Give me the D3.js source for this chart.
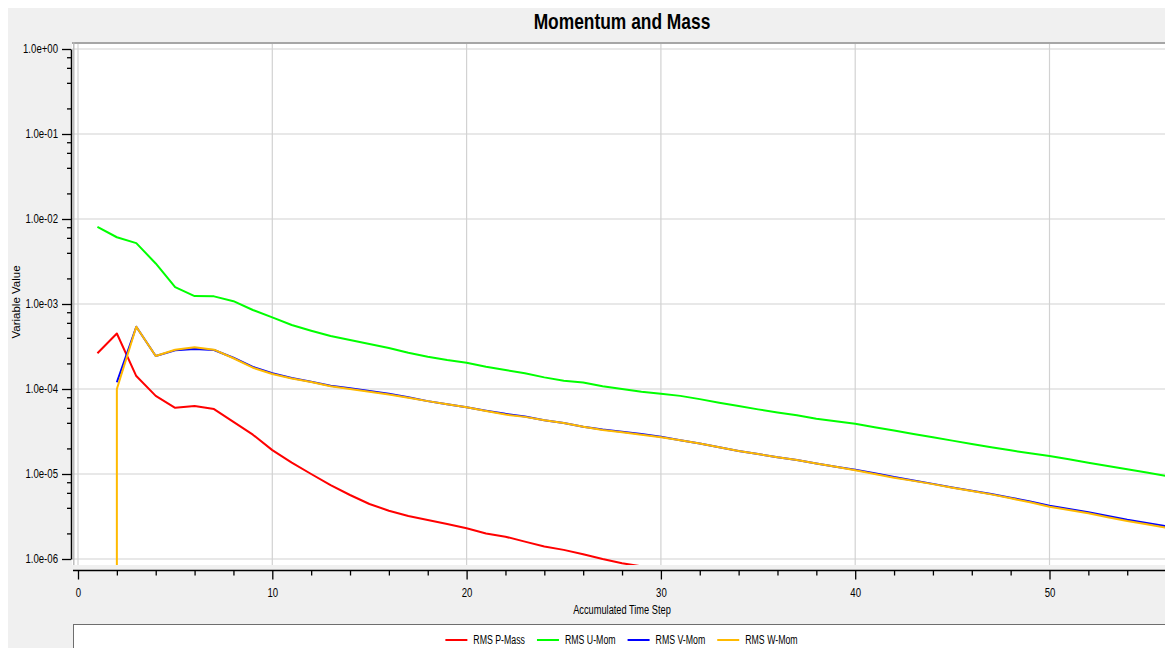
<!DOCTYPE html>
<html lang="en">
<head>
  <meta charset="UTF-8">
  <title>Momentum and Mass</title>
  <script src="https://cdn.jsdelivr.net/npm/d3@7"></script>
  <style>
    body { margin: 0; background: #fff; }
    text { font-family: "Liberation Sans", Arial, sans-serif; fill: #000; }
    .grid line { stroke: #d2d2d2; stroke-width: 1.2px; }
    .series { fill: none; stroke-width: 2px; stroke-linejoin: round; }
  </style>
</head>
<body>
<svg id="chart" width="1165" height="648"></svg>
<script>

// ---- data ----
var pMassSteps = [1, 2, 3, 4, 5, 6, 7, 8, 9, 10, 11, 12, 13, 14, 15, 16, 17, 18, 19, 20,
                  21, 22, 23, 24, 25, 26, 27, 28, 29];
var pMassValues = [2.63e-4, 4.5e-4, 1.42e-4, 8.3e-5, 6.0e-5, 6.3e-5, 5.8e-5, 4.1e-5, 2.9e-5, 1.91e-5,
                   1.36e-5, 1.0e-5, 7.4e-6, 5.66e-6, 4.44e-6, 3.7e-6, 3.2e-6, 2.88e-6, 2.58e-6, 2.3e-6,
                   2.0e-6, 1.83e-6, 1.6e-6, 1.4e-6, 1.28e-6, 1.14e-6, 1.0e-6, 8.9e-7, 8.2e-7];

var uMomSteps = [1, 2, 3, 4, 5, 6, 7, 8, 9, 10, 11, 12, 13, 14, 15, 16, 17, 18, 19, 20,
                 21, 22, 23, 24, 25, 26, 27, 28, 29, 30, 31, 32, 33, 34, 35, 36, 37, 38, 39, 40,
                 41, 42, 43, 44, 45, 46, 47, 48, 49, 50, 51, 52, 53, 54, 55, 56, 57];
var uMomValues = [8.1e-3, 6.1e-3, 5.2e-3, 3.0e-3, 1.58e-3, 1.24e-3, 1.23e-3, 1.08e-3, 8.5e-4, 6.97e-4,
                  5.66e-4, 4.85e-4, 4.2e-4, 3.77e-4, 3.39e-4, 3.04e-4, 2.67e-4, 2.4e-4, 2.19e-4, 2.04e-4,
                  1.83e-4, 1.67e-4, 1.53e-4, 1.37e-4, 1.25e-4, 1.19e-4, 1.08e-4, 1.0e-4, 9.3e-5, 8.8e-5,
                  8.3e-5, 7.6e-5, 6.9e-5, 6.3e-5, 5.76e-5, 5.3e-5, 4.9e-5, 4.47e-5, 4.17e-5, 3.89e-5,
                  3.55e-5, 3.24e-5, 2.95e-5, 2.7e-5, 2.47e-5, 2.25e-5, 2.06e-5, 1.9e-5, 1.75e-5, 1.63e-5,
                  1.49e-5, 1.36e-5, 1.24e-5, 1.14e-5, 1.04e-5, 9.5e-6, 8.7e-6];

var vMomSteps = [2, 3, 4, 5, 6, 7, 8, 9, 10, 11, 12, 13, 14, 15, 16, 17, 18, 19, 20,
                 21, 22, 23, 24, 25, 26, 27, 28, 29, 30, 31, 32, 33, 34, 35, 36, 37, 38, 39, 40,
                 41, 42, 43, 44, 45, 46, 47, 48, 49, 50, 51, 52, 53, 54, 55, 56, 57];
var vMomValues = [1.2e-4, 5.4e-4, 2.44e-4, 2.85e-4, 2.95e-4, 2.88e-4, 2.33e-4, 1.82e-4, 1.53e-4,
                  1.35e-4, 1.22e-4, 1.09e-4, 1.02e-4, 9.5e-5, 8.8e-5, 8.0e-5, 7.2e-5, 6.6e-5, 6.1e-5,
                  5.55e-5, 5.1e-5, 4.75e-5, 4.3e-5, 3.97e-5, 3.6e-5, 3.33e-5, 3.15e-5, 2.95e-5, 2.74e-5,
                  2.5e-5, 2.29e-5, 2.06e-5, 1.86e-5, 1.72e-5, 1.57e-5, 1.46e-5, 1.33e-5, 1.22e-5, 1.12e-5,
                  1.02e-5, 9.2e-6, 8.4e-6, 7.65e-6, 6.95e-6, 6.35e-6, 5.82e-6, 5.27e-6, 4.74e-6, 4.22e-6,
                  3.87e-6, 3.55e-6, 3.2e-6, 2.9e-6, 2.66e-6, 2.44e-6, 2.26e-6];

// W-Mom starts with a near-zero value at step 2 (drawn off the bottom of the axis)
var wMomSteps = [2, 2, 3, 4, 5, 6, 7, 8, 9, 10, 11, 12, 13, 14, 15, 16, 17, 18, 19, 20,
                 21, 22, 23, 24, 25, 26, 27, 28, 29, 30, 31, 32, 33, 34, 35, 36, 37, 38, 39, 40,
                 41, 42, 43, 44, 45, 46, 47, 48, 49, 50, 51, 52, 53, 54, 55, 56, 57];
var wMomValues = [1e-9, 1.0e-4, 5.4e-4, 2.44e-4, 2.9e-4, 3.1e-4, 2.9e-4, 2.3e-4, 1.78e-4, 1.5e-4,
                  1.33e-4, 1.21e-4, 1.08e-4, 1.0e-4, 9.3e-5, 8.6e-5, 7.9e-5, 7.2e-5, 6.6e-5, 6.1e-5,
                  5.5e-5, 5.0e-5, 4.7e-5, 4.3e-5, 3.97e-5, 3.6e-5, 3.3e-5, 3.1e-5, 2.9e-5, 2.7e-5,
                  2.5e-5, 2.29e-5, 2.06e-5, 1.86e-5, 1.72e-5, 1.57e-5, 1.46e-5, 1.33e-5, 1.22e-5, 1.11e-5,
                  1.0e-5, 9.05e-6, 8.3e-6, 7.6e-6, 6.9e-6, 6.3e-6, 5.76e-6, 5.17e-6, 4.64e-6, 4.12e-6,
                  3.77e-6, 3.45e-6, 3.1e-6, 2.8e-6, 2.57e-6, 2.34e-6, 2.15e-6];

var seriesNames = ["RMS P-Mass", "RMS U-Mom", "RMS V-Mom", "RMS W-Mom"];
var seriesColors = ["#ff0000", "#00ff00", "#0000ff", "#ffba00"];

var xTickValues = [0, 10, 20, 30, 40, 50];
var xTickLabels = ["0", "10", "20", "30", "40", "50"];
var yTickValues = [1, 1e-1, 1e-2, 1e-3, 1e-4, 1e-5, 1e-6];
var yTickLabels = ["1.0e+00", "1.0e-01", "1.0e-02", "1.0e-03", "1.0e-04", "1.0e-05", "1.0e-06"];
var yMinorFactors = [0.2, 0.4, 0.6, 0.8];

// ---- layout ----
var svg = d3.select("#chart");
var W = 1165, H = 648;
var plot = { left: 72, top: 42, right: 1260, bottom: 565 };

var x = d3.scaleLinear().domain([0, 50]).range([78, 1049.5]);
var y = d3.scaleLog().domain([1e-6, 1]).range([559, 49]);

// squeeze text horizontally (the source font is a narrow one)
function squeeze(sel, k) {
  sel.each(function() {
    var w = this.getComputedTextLength();
    d3.select(this).attr("textLength", w * k).attr("lengthAdjust", "spacingAndGlyphs");
  });
}

svg.append("rect").attr("width", W).attr("height", H).attr("fill", "#fff");
svg.append("rect").attr("x", 8).attr("y", 8).attr("width", W - 8).attr("height", H - 8).attr("fill", "#f0f0f0");

// title
svg.append("text")
    .attr("x", 622).attr("y", 28.5)
    .attr("text-anchor", "middle")
    .style("font-size", "22px").style("font-weight", "bold")
    .text("Momentum and Mass")
    .call(squeeze, 0.79);

// plot background
svg.append("rect")
    .attr("x", plot.left).attr("y", plot.top)
    .attr("width", plot.right - plot.left).attr("height", plot.bottom - plot.top)
    .attr("fill", "#fff");

// grid
var grid = svg.append("g").attr("class", "grid");
grid.selectAll(".gx").data(xTickValues).enter().append("line")
    .attr("x1", function(d) { return x(d); }).attr("x2", function(d) { return x(d); })
    .attr("y1", plot.top).attr("y2", plot.bottom);
grid.selectAll(".gy").data(yTickValues).enter().append("line")
    .attr("x1", plot.left).attr("x2", plot.right)
    .attr("y1", function(d) { return y(d); }).attr("y2", function(d) { return y(d); });

// frame
svg.append("line").attr("x1", plot.left).attr("x2", plot.right)
    .attr("y1", plot.top + 1).attr("y2", plot.top + 1)
    .attr("stroke", "#a6a6a6").attr("stroke-width", 2);
svg.append("line").attr("x1", 73.8).attr("x2", 73.8)
    .attr("y1", plot.top).attr("y2", plot.bottom)
    .attr("stroke", "#b4b4b4").attr("stroke-width", 1.3);

// series
svg.append("clipPath").attr("id", "clip")
  .append("rect")
    .attr("x", plot.left).attr("y", plot.top)
    .attr("width", plot.right - plot.left).attr("height", plot.bottom - plot.top);

var line = d3.line()
    .x(function(d) { return x(d[0]); })
    .y(function(d) { return y(d[1]); });

var series = [
  d3.zip(pMassSteps, pMassValues),
  d3.zip(uMomSteps, uMomValues),
  d3.zip(vMomSteps, vMomValues),
  d3.zip(wMomSteps, wMomValues)
];

svg.append("g").attr("clip-path", "url(#clip)")
  .selectAll("path")
  .data(series)
  .enter().append("path")
    .attr("class", "series")
    .attr("stroke", function(d, i) { return seriesColors[i]; })
    .attr("d", line);

// y axis
var yMinor = [];
yTickValues.slice(0, -1).forEach(function(t) {
  yMinorFactors.forEach(function(f) { yMinor.push(t * f); });
});

var yAxisG = svg.append("g")
    .attr("transform", "translate(71,0)")
    .call(d3.axisLeft(y)
        .tickValues(yTickValues)
        .tickFormat(function(d, i) { return yTickLabels[i]; })
        .tickSize(9).tickSizeOuter(0).tickPadding(4));
yAxisG.select(".domain").attr("stroke", "#000").attr("stroke-width", 1.5);
yAxisG.selectAll(".tick line").attr("stroke", "#000").attr("stroke-width", 1.3);
yAxisG.selectAll("text").style("font-size", "12px").attr("fill", "#000").call(squeeze, 0.8);

var yMinorG = svg.append("g")
    .attr("transform", "translate(71,0)")
    .call(d3.axisLeft(y).tickValues(yMinor).tickFormat("").tickSize(4).tickSizeOuter(0));
yMinorG.select(".domain").remove();
yMinorG.selectAll(".tick line").attr("stroke", "#000").attr("stroke-width", 1.3);

// x axis
var xMinor = [];
d3.range(0, 62, 2).forEach(function(v) { if (v % 10 !== 0) xMinor.push(v); });

svg.append("line")
    .attr("x1", 73).attr("x2", W)
    .attr("y1", 570.5).attr("y2", 570.5)
    .attr("stroke", "#000").attr("stroke-width", 1.5);

var xAxisG = svg.append("g")
    .attr("transform", "translate(0,570.5)")
    .call(d3.axisBottom(x)
        .tickValues(xTickValues)
        .tickFormat(function(d, i) { return xTickLabels[i]; })
        .tickSize(9).tickSizeOuter(0).tickPadding(9));
xAxisG.select(".domain").remove();
xAxisG.selectAll(".tick line").attr("stroke", "#000").attr("stroke-width", 1.3);
xAxisG.selectAll("text").style("font-size", "12px").attr("fill", "#000").call(squeeze, 0.8);

var xMinorG = svg.append("g")
    .attr("transform", "translate(0,570.5)")
    .call(d3.axisBottom(x).tickValues(xMinor).tickFormat("").tickSize(5).tickSizeOuter(0));
xMinorG.select(".domain").remove();
xMinorG.selectAll(".tick line").attr("stroke", "#000").attr("stroke-width", 1.3);

// axis titles
svg.append("text")
    .attr("x", 622).attr("y", 614)
    .attr("text-anchor", "middle")
    .style("font-size", "12px")
    .text("Accumulated Time Step")
    .call(squeeze, 0.77);

svg.append("text")
    .attr("transform", "translate(19.5,302) rotate(-90)")
    .attr("text-anchor", "middle")
    .style("font-size", "11.5px")
    .text("Variable Value");

// legend
svg.append("rect")
    .attr("x", 73.5).attr("y", 624.5)
    .attr("width", 1200).attr("height", 60)
    .attr("fill", "#fff").attr("stroke", "#6e6e6e").attr("stroke-width", 1);

var legend = svg.append("g");
var lx = 0;
seriesNames.forEach(function(name, i) {
  var item = legend.append("g").attr("transform", "translate(" + lx + ",0)");
  item.append("line")
      .attr("x1", 0).attr("x2", 22).attr("y1", 640).attr("y2", 640)
      .attr("stroke", seriesColors[i]).attr("stroke-width", 2);
  var t = item.append("text")
      .attr("x", 28).attr("y", 644.3)
      .style("font-size", "12px")
      .text(name)
      .call(squeeze, 0.73);
  lx += 28 + (+t.attr("textLength")) + 12;
});
var legendWidth = lx - 12;
legend.attr("transform", "translate(" + (621.5 - legendWidth / 2) + ",0)");

</script>
</body>
</html>
